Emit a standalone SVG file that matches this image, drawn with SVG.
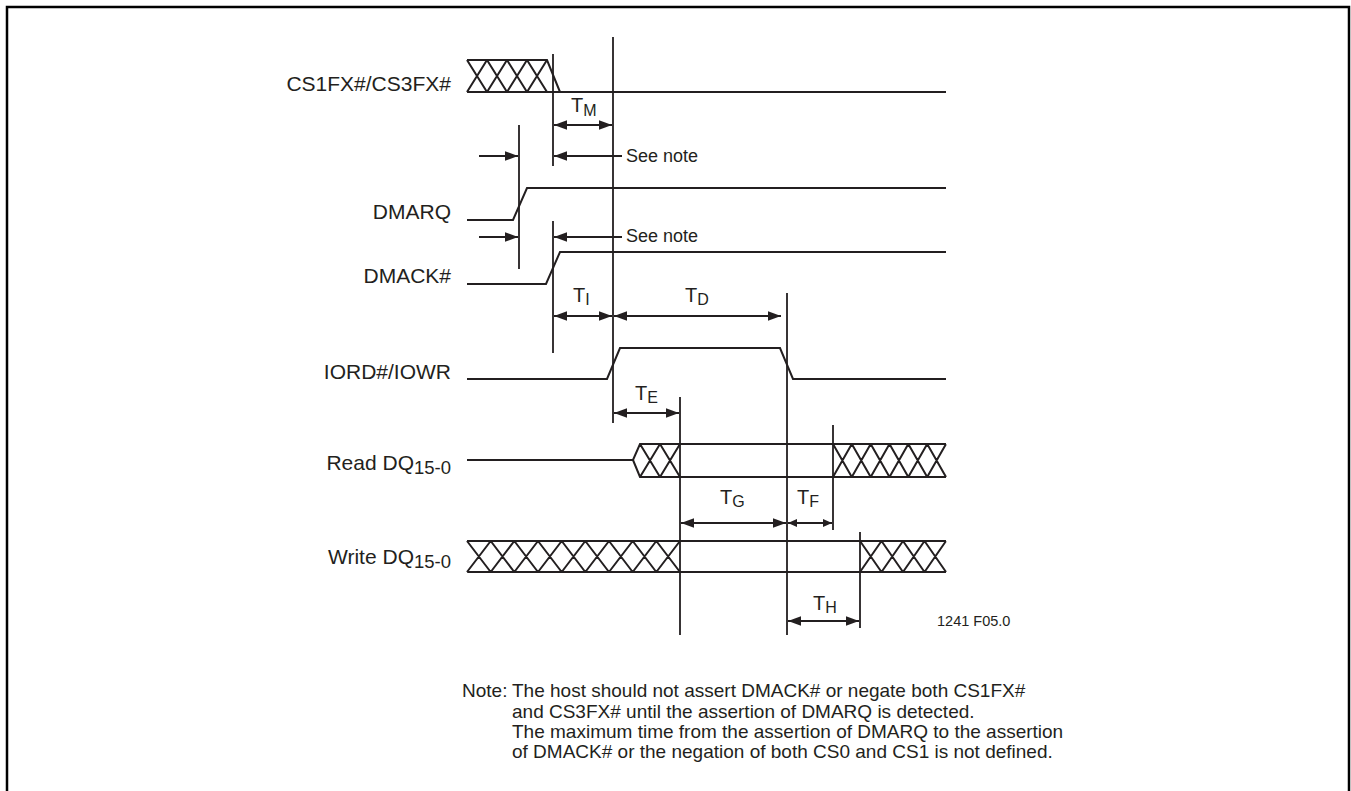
<svg xmlns="http://www.w3.org/2000/svg" width="1351" height="791" viewBox="0 0 1351 791">
<style>
  .sig{fill:none;stroke:#231f20;stroke-width:2;stroke-linejoin:miter}
  .vl{fill:none;stroke:#231f20;stroke-width:1.8}
  .arr{fill:none;stroke:#231f20;stroke-width:1.8}
  .lbl{font-family:"Liberation Sans",Arial,sans-serif;font-size:21px;fill:#231f20}
  .sub{font-size:18.5px}
  .t{font-family:"Liberation Sans",Arial,sans-serif;font-size:20px;fill:#231f20}
  .ts{font-size:16px}
  .sn{font-family:"Liberation Sans",Arial,sans-serif;font-size:18px;fill:#231f20}
  .note{font-family:"Liberation Sans",Arial,sans-serif;font-size:19px;fill:#231f20}
  .fig{font-family:"Liberation Sans",Arial,sans-serif;font-size:14.5px;fill:#231f20}
</style>
<defs>
  <marker id="ah" markerUnits="userSpaceOnUse" markerWidth="14" markerHeight="10" refX="13" refY="4.75" orient="auto-start-reverse">
    <path d="M0,0 L13,4.75 L0,9.5 z" fill="#231f20"/>
  </marker>
  <marker id="ahs" markerUnits="userSpaceOnUse" markerWidth="10" markerHeight="8" refX="9" refY="4" orient="auto-start-reverse">
    <path d="M0,0 L9,4 L0,8 z" fill="#231f20"/>
  </marker>
</defs>
<rect x="7" y="7" width="1342" height="800" fill="#fff" stroke="#000" stroke-width="2.5"/>

<g id="signal-cs">
  <text class="lbl" x="451" y="91" text-anchor="end">CS1FX#/CS3FX#</text>
  <path class="sig" d="M467,60 L547,60 L560,92 M467,92 L946,92 M467,60 L487,92 M487,60 L467,92 M487,60 L507,92 M507,60 L487,92 M507,60 L527,92 M527,60 L507,92 M527,60 L547,92 M547,60 L527,92"/>
</g>
<g id="signal-dmarq">
  <text class="lbl" x="451" y="219" text-anchor="end">DMARQ</text>
  <path class="sig" d="M467,220 L513,220 L527,188 L946,188"/>
</g>
<g id="signal-dmack">
  <text class="lbl" x="451" y="283" text-anchor="end">DMACK#</text>
  <path class="sig" d="M467,284 L546,284 L560,252 L946,252"/>
</g>
<g id="signal-iord">
  <text class="lbl" x="451" y="379" text-anchor="end">IORD#/IOWR</text>
  <path class="sig" d="M467,379 L607,379 L620,348 L780,348 L793,379 L946,379"/>
</g>
<g id="signal-read">
  <text class="lbl" x="451" y="470" text-anchor="end">Read DQ<tspan class="sub" dy="4">15-0</tspan></text>
  <path class="sig" d="M467,460 L633,460 L640,444 L946,444 M633,460 L640,477 L946,477 M640,444 L660,477 M660,444 L640,477 M660,444 L680,477 M680,444 L660,477 M833,444 L851.8,477 M851.8,444 L833,477 M851.8,444 L870.7,477 M870.7,444 L851.8,477 M870.7,444 L889.5,477 M889.5,444 L870.7,477 M889.5,444 L908.3,477 M908.3,444 L889.5,477 M908.3,444 L927.2,477 M927.2,444 L908.3,477 M927.2,444 L946,477 M946,444 L927.2,477"/>
</g>
<g id="signal-write">
  <text class="lbl" x="451" y="564" text-anchor="end">Write DQ<tspan class="sub" dy="4">15-0</tspan></text>
  <path class="sig" d="M467,541 L946,541 M467,572 L946,572 M467,541 L490.7,572 M490.7,541 L467,572 M490.7,541 L514.3,572 M514.3,541 L490.7,572 M514.3,541 L538,572 M538,541 L514.3,572 M538,541 L561.7,572 M561.7,541 L538,572 M561.7,541 L585.3,572 M585.3,541 L561.7,572 M585.3,541 L609,572 M609,541 L585.3,572 M609,541 L632.7,572 M632.7,541 L609,572 M632.7,541 L656.3,572 M656.3,541 L632.7,572 M656.3,541 L680,572 M680,541 L656.3,572 M860,541 L881.5,572 M881.5,541 L860,572 M881.5,541 L903,572 M903,541 L881.5,572 M903,541 L924.5,572 M924.5,541 L903,572 M924.5,541 L946,572 M946,541 L924.5,572"/>
</g>

<g id="connectors">
  <path class="vl" d="M613,37 L613,423 M553,54 L553,166 M553,221 L553,353 M519,125 L519,269 M680,397 L680,635 M787,293 L787,635 M833,425 L833,530 M860,532 L860,628"/>
  <line class="arr" x1="554" y1="125" x2="612" y2="125" marker-start="url(#ah)" marker-end="url(#ah)"/>
  <line class="arr" x1="622" y1="156" x2="554" y2="156" marker-end="url(#ah)"/>
  <line class="arr" x1="479" y1="156" x2="518" y2="156" marker-end="url(#ah)"/>
  <line class="arr" x1="622" y1="237" x2="554" y2="237" marker-end="url(#ah)"/>
  <line class="arr" x1="479" y1="237" x2="518" y2="237" marker-end="url(#ah)"/>
  <line class="arr" x1="554" y1="316" x2="612" y2="316" marker-start="url(#ah)" marker-end="url(#ah)"/>
  <line class="arr" x1="614" y1="316" x2="781" y2="316" marker-start="url(#ah)" marker-end="url(#ah)"/>
  <line class="arr" x1="614" y1="413" x2="679" y2="413" marker-start="url(#ah)" marker-end="url(#ah)"/>
  <line class="arr" x1="681" y1="523" x2="786" y2="523" marker-start="url(#ah)" marker-end="url(#ah)"/>
  <line class="arr" x1="788" y1="523" x2="832" y2="523" marker-start="url(#ahs)" marker-end="url(#ahs)"/>
  <line class="arr" x1="788" y1="621" x2="859" y2="621" marker-start="url(#ah)" marker-end="url(#ah)"/>
</g>

<g id="timing-labels">
  <text class="t" x="571" y="112">T<tspan class="ts" dy="4">M</tspan></text>
  <text class="sn" x="626" y="162">See note</text>
  <text class="sn" x="626" y="242">See note</text>
  <text class="t" x="573" y="302">T<tspan class="ts" dy="3">I</tspan></text>
  <text class="t" x="685" y="302">T<tspan class="ts" dy="3">D</tspan></text>
  <text class="t" x="635" y="400">T<tspan class="ts" dy="3">E</tspan></text>
  <text class="t" x="720" y="504">T<tspan class="ts" dy="3">G</tspan></text>
  <text class="t" x="797" y="504">T<tspan class="ts" dy="3">F</tspan></text>
  <text class="t" x="813" y="610">T<tspan class="ts" dy="3">H</tspan></text>
  <text class="fig" x="937" y="626">1241 F05.0</text>
</g>

<g id="note">
  <text class="note" x="462" y="697">Note:</text>
  <text class="note" x="512" y="697">The host should not assert DMACK# or negate both CS1FX#</text>
  <text class="note" x="512" y="718">and CS3FX# until the assertion of DMARQ is detected.</text>
  <text class="note" x="512" y="738">The maximum time from the assertion of DMARQ to the assertion</text>
  <text class="note" x="512" y="758">of DMACK# or the negation of both CS0 and CS1 is not defined.</text>
</g>
</svg>
